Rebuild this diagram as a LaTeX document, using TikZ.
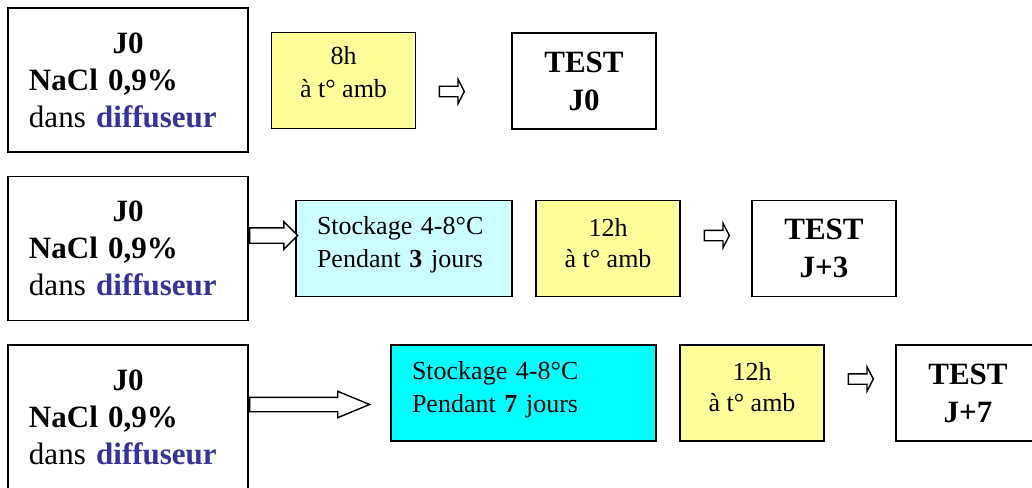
\documentclass[tikz,border=0pt]{standalone}
\usepackage{fontspec}
\setmainfont{Liberation Serif}
\usetikzlibrary{shapes.arrows}

\definecolor{ambjaune}{HTML}{FFFF99}
\definecolor{froidpale}{HTML}{CCFFFF}
\definecolor{froid}{HTML}{00FFFF}
\definecolor{diffbleu}{HTML}{333399}

\tikzset{
    grand/.style={font=\fontsize{7.75mm}{9.25mm}\selectfont},
    petit/.style={font=\fontsize{6.5mm}{8.25mm}\selectfont},
    depart/.style={draw, line width=0.45mm, grand, text width=49.5mm, inner xsep=5.25mm, minimum height=36mm, align=left},
    ambbox/.style={draw, line width=0.45mm, fill=ambjaune, petit, minimum width=36mm, minimum height=24mm},
    froidbox/.style={draw, line width=0.45mm, petit, inner xsep=5.25mm, minimum height=24mm, align=left},
    testbox/.style={draw, line width=0.45mm, font=\fontsize{7.75mm}{9.5mm}\selectfont\bfseries, minimum width=36mm, minimum height=24mm, align=center},
    fleche/.style={single arrow, draw, fill=white, line width=0.35mm, inner xsep=0pt, single arrow head indent=0pt},
    petitefleche/.style={fleche, minimum height=6.25mm, inner ysep=1.125mm, single arrow head extend=1.75mm, single arrow tip angle=125}
}

\begin{document}
\begin{tikzpicture}[x=0.25mm, y=-0.25mm]
    \useasboundingbox (0,0) rectangle (1032,487);

    % the three starting boxes
    \foreach \y/\n in {80/1, 248.5/2, 417/3} {
        \node[depart] (dep\n) at (128,\y) {\makebox[49.5mm]{\bfseries J0}\\ \textbf{NaCl 0,9\%}\\ dans \textbf{\color{diffbleu}diffuseur}};
    }

    % storage
    \node[froidbox, fill=froidpale, text width=43.5mm] (froid2) at (404,248.5) {\begin{tabular}{@{}l@{}}Stockage 4-8°C\\Pendant \textbf{3} jours\\[2mm]\end{tabular}};
    \node[froidbox, fill=froid, text width=55.75mm] (froid3) at (523.5,393) {\begin{tabular}{@{}l@{}}Stockage 4-8°C\\Pendant \textbf{7} jours\\[2mm]\end{tabular}};

    % room temperature
    \node[ambbox] (amb1) at (343.5,80.5) {\begin{tabular}{@{}c@{}}8h\\à t° amb\\[3mm]\end{tabular}};
    \node[ambbox] (amb2) at (608,248.5) {\begin{tabular}{@{}c@{}}12h\\[-0.5mm]à t° amb\\[1.5mm]\end{tabular}};
    \node[ambbox] (amb3) at (752,393) {\begin{tabular}{@{}c@{}}12h\\[-0.5mm]à t° amb\\[2mm]\end{tabular}};

    % tests
    \node[testbox] (test1) at (584,81) {TEST\\J0};
    \node[testbox] (test2) at (824,248.5) {TEST\\J+3};
    \node[testbox] (test3) at (968,393) {TEST\\J+7};

    % arrows
    \node[fleche, minimum height=12mm, inner ysep=1.75mm, single arrow head extend=1.5mm, anchor=tail] (lien2) at ([yshift=3.25mm]dep2.east) {};
    \node[fleche, minimum height=30mm, inner ysep=1.625mm, single arrow head extend=1.5mm, single arrow tip angle=45, anchor=tail] (lien3) at ([yshift=3.125mm]dep3.east) {};
    \foreach \x/\y/\n in {450.5/91.5/1, 715.5/235.5/2, 859.5/379/3}
        \node[petitefleche] (vers\n) at (\x,\y) {};
\end{tikzpicture}
\end{document}
